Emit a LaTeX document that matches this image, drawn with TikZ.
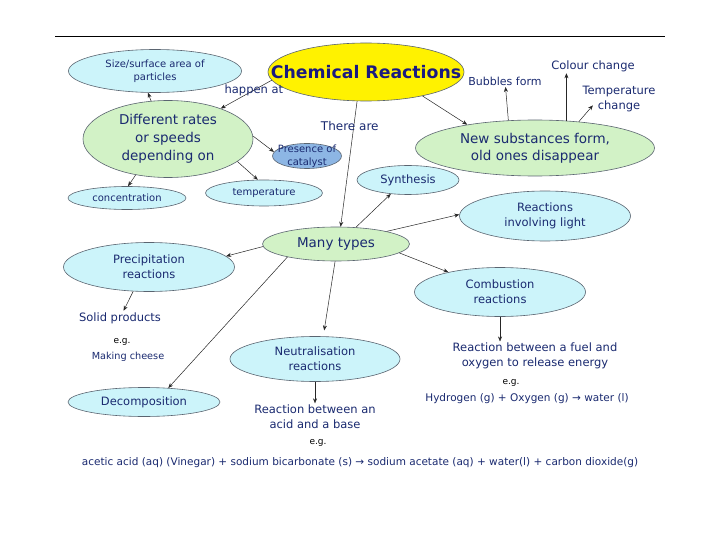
\documentclass[tikz,border=0pt]{standalone}
\usepackage{fontspec}
\setmainfont{DejaVu Sans}
\usetikzlibrary{shapes.geometric,arrows.meta}
\definecolor{navy}{HTML}{1A2A70}
\definecolor{titlenavy}{HTML}{1A1A80}
\definecolor{cyanfill}{HTML}{CCF4FA}
\definecolor{greenfill}{HTML}{D2F2C6}
\definecolor{bluefill}{HTML}{8DB6E4}
\definecolor{edgegray}{HTML}{5A6470}
\tikzset{
  oval/.style={ellipse, draw=edgegray, line width=0.6pt, inner sep=-80pt, align=center, text=navy},
  cy/.style={oval, fill=cyanfill},
  gr/.style={oval, fill=greenfill},
  lbl/.style={text=navy, align=center, inner sep=1.5pt},
  fsA/.style={font=\fontsize{13.5}{17}\selectfont},
  fsB/.style={font=\fontsize{11.5}{15}\selectfont},
  fsC/.style={font=\fontsize{10}{13}\selectfont},
  fsD/.style={font=\fontsize{9}{11}\selectfont},
  arr/.style={draw=black!85, line width=0.5pt, -{Stealth[length=5pt,width=4pt]}},
}
\begin{document}
\begin{tikzpicture}[x=1pt,y=-1pt]
\useasboundingbox[fill=white] (0,0) rectangle (720,540);
\draw[line width=0.8pt] (55,36) -- (665,36);

% ellipses
\node[oval, fill=yellow, minimum width=196, minimum height=58, font=\fontsize{17.3}{20}\selectfont\bfseries, text=titlenavy] (chem) at (366,72) {Chemical Reactions};
\node[cy, fsC, minimum width=173, minimum height=43] (size) at (155,71) {Size/surface area of\\particles};
\node[gr, fsA, minimum width=170, minimum height=77, font=\fontsize{13.5}{18}\selectfont] (diff) at (168,139) {Different rates\\or speeds\\depending on};
\node[oval, fill=bluefill, fsC, minimum width=69, minimum height=25] (cat) at (307,156) {Presence of\\catalyst};
\node[cy, fsC, minimum width=118, minimum height=23] (conc) at (127,198) {concentration};
\node[cy, fsC, minimum width=117, minimum height=26] (temp) at (264,193) {temperature};
\node[gr, fsA, minimum width=239, minimum height=56] (new) at (535,148) {New substances form,\\old ones disappear};
\node[cy, fsB, minimum width=102, minimum height=29] (syn) at (408,180) {Synthesis};
\node[cy, fsB, minimum width=171, minimum height=50] (light) at (545,216) {Reactions\\involving light};
\node[gr, fsA, minimum width=147, minimum height=34] (many) at (336,244) {Many types};
\node[cy, fsB, minimum width=171, minimum height=49] (prec) at (149,267) {Precipitation\\reactions};
\node[cy, fsB, minimum width=171, minimum height=49] (comb) at (500,292) {Combustion\\reactions};
\node[cy, fsB, minimum width=170, minimum height=45] (neut) at (315,359) {Neutralisation\\reactions};
\node[cy, fsB, minimum width=152, minimum height=29] (decomp) at (144,402) {Decomposition};

% text nodes
\node[lbl, font=\fontsize{11}{13}\selectfont] (bubbles) at (505,81) {Bubbles form};
\node[lbl, fsB] (colour) at (593,66) {Colour change};
\node[lbl, font=\fontsize{11.5}{14.5}\selectfont] (tempch) at (619,99) {Temperature\\change};
\node[lbl, fsB] (solid) at (120,318) {Solid products};
\node[lbl, fsD, text=black] (eg1) at (122,342) {e.g.};
\node[lbl, font=\fontsize{9.7}{11}\selectfont] (cheese) at (128,357) {Making cheese};
\node[lbl, fsB] (acidbase) at (315,417) {Reaction between an\\acid and a base};
\node[lbl, fsD, text=black] (eg2) at (318,443) {e.g.};
\node[lbl, font=\fontsize{10.5}{12}\selectfont] (acetic) at (360,463) {acetic acid (aq) (Vinegar) + sodium bicarbonate (s) → sodium acetate (aq) + water(l) + carbon dioxide(g)};
\node[lbl, font=\fontsize{11.5}{14.5}\selectfont] (fuel) at (535,356) {Reaction between a fuel and\\oxygen to release energy};
\node[lbl, fsD, text=black] (eg3) at (511,383) {e.g.};
\node[lbl, font=\fontsize{10.5}{12}\selectfont] (hydro) at (527,399) {Hydrogen (g) + Oxygen (g) → water (l)};

% connectors
\draw[arr] (chem.185) -- node[lbl, fsB, pos=0.35] {happen at} (diff.30);
\draw[arr] (chem.253) -- node[lbl, font=\fontsize{12}{14}\selectfont, pos=0.2, xshift=-4] {There are} (many.75);
\draw[arr] (chem.337) -- (new.161);
\draw[arr] (new.134) -- (bubbles);
\draw[arr] (new.41) -- (new.41 |- colour.south);
\draw[arr] (new.31) -- ([xshift=12pt,yshift=8pt]tempch.south west);
\draw[arr] (diff.114) -- (size.252);
\draw[arr] (diff.2) -- (cat.173);
\draw[arr] (diff.342) -- (temp.115);
\draw[arr] (diff.228) -- (conc.85);
\draw[arr] (many.40) -- (syn.219);
\draw[arr] (many.14) -- (light.179);
\draw[arr] (many.352) -- (comb.159);
\draw[arr] (many.182) -- (prec.8);
\draw[arr, shorten >=6pt] (many.267) -- (neut.70);
\draw[arr] (many.195) -- (decomp.30);
\draw[arr] (prec.237) -- (solid);
\draw[arr] (neut.south) -- (acidbase.north);
\draw[arr] (comb.south) -- (comb.south |- fuel.north);
\end{tikzpicture}
\end{document}
